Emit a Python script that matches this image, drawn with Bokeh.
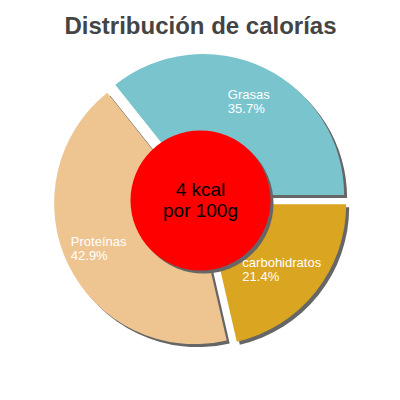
import numpy as np
from bokeh.plotting import figure
from bokeh.models import ColumnDataSource
from bokeh.core.properties import value
from bokeh.embed import file_html
from bokeh.resources import INLINE

# ---- data ----
title_text = "Distribución de calorías"
categories = ["Grasas", "Proteínas", "carbohidratos"]
percents = [35.7, 42.9, 21.4]
colors = ["#7AC5CD", "#EEC591", "#DAA520"]
center_text = "4 kcal\npor 100g"

# ---- layout constants (reference pixel space, y down) ----
FIG = 384
SIZE = 400
CX, CY = 200, 200
R = 141
EXPLODE = 6
HOLE_R = 70
LABEL_R = 110
SHADOW_DX, SHADOW_DY = 3, 3
FONT = "Liberation Sans"


def Y(yref):
    return SIZE - yref


p = figure(width=FIG, height=FIG,
           x_range=(0, FIG), y_range=(SIZE - FIG, SIZE),
           output_backend="svg", toolbar_location=None,
           x_axis_location=None, y_axis_location=None, min_border=0)
p.grid.visible = False
p.outline_line_color = None
p.background_fill_color = "white"
p.border_fill_color = "white"

vals = np.array(percents, dtype=float)
fr = vals / vals.sum()
ends = np.cumsum(fr) * 2 * np.pi
starts = ends - fr * 2 * np.pi
mids = (starts + ends) / 2

xs = CX + EXPLODE * np.cos(mids)
ys = Y(CY) + EXPLODE * np.sin(mids)

src = ColumnDataSource(dict(x=xs, y=ys, sx=xs + SHADOW_DX, sy=ys - SHADOW_DY,
                            start=starts, end=ends, color=colors))

# shadows
p.wedge(x="sx", y="sy", radius=R, start_angle="start", end_angle="end",
        fill_color="#666666", line_color=None, source=src)
# slices
p.wedge(x="x", y="y", radius=R, start_angle="start", end_angle="end",
        fill_color="color", line_color=None, source=src)

# center circle with shadow
p.circle(x=[CX + SHADOW_DX], y=[Y(CY) - SHADOW_DY], radius=HOLE_R,
         fill_color="#666666", line_color=None)
p.circle(x=[CX], y=[Y(CY)], radius=HOLE_R, fill_color="#FF0000", line_color=None)

# labels
lab_texts = [f"{c}\n{v:.1f}%" for c, v in zip(categories, percents)]
lab_w = np.array([max(len(c), len(f"{v:.1f}%")) * 6.8 for c, v in zip(categories, percents)])
lcx = CX + LABEL_R * np.cos(mids)
lcy = Y(CY) + LABEL_R * np.sin(mids)
lsrc = ColumnDataSource(dict(x=lcx - lab_w / 2, y=lcy + 14, text=lab_texts))
p.text(x="x", y="y", text="text", source=lsrc, text_color="white",
       text_font=value(FONT), text_font_size="13px", text_align="left",
       text_baseline="top", text_line_height=0.9)

# center text
p.text(x=[CX], y=[Y(CY - 1)], text=[center_text], text_color="black",
       text_font=value(FONT), text_font_size="19px", text_align="center",
       text_baseline="middle", text_line_height=1.0)

# title
p.text(x=[CX], y=[Y(25)], text=[title_text], text_color="#444444",
       text_font=value(FONT), text_font_size="24px", text_font_style="bold",
       text_align="center", text_baseline="alphabetic")

open("out.html", "w").write(file_html(p, INLINE))
